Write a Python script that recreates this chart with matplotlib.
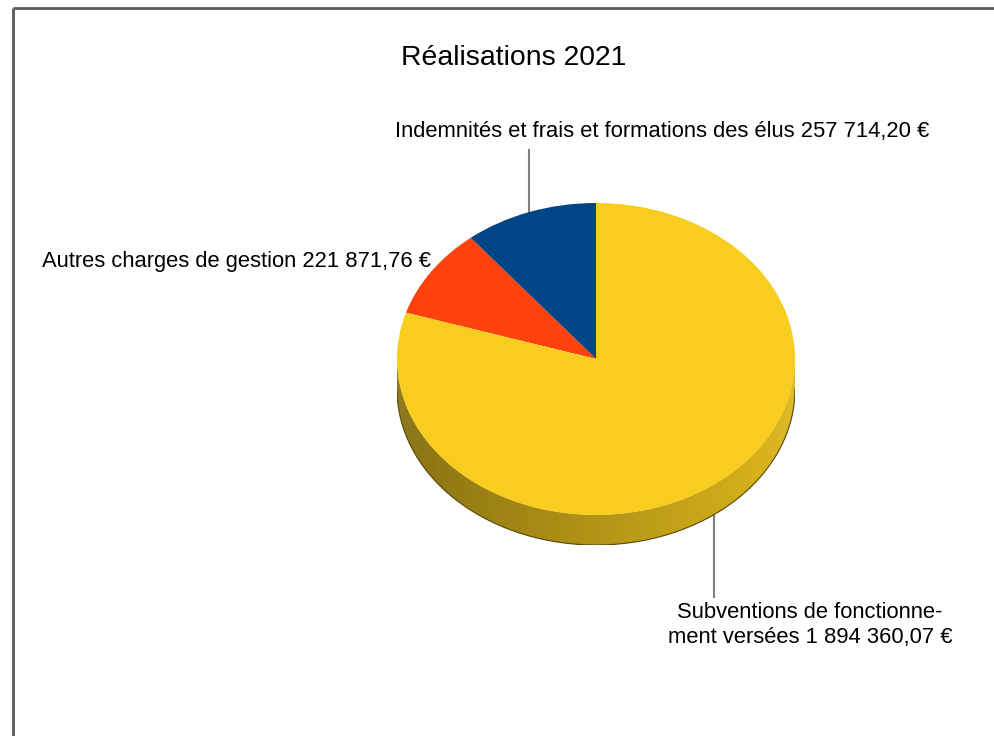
import numpy as np
import matplotlib
matplotlib.use("Agg")
import matplotlib.pyplot as plt
from matplotlib.collections import PolyCollection
from matplotlib.colors import to_rgb

title = "Réalisations 2021"
categories = ["Indemnités et frais et formations des élus",
              "Autres charges de gestion",
              "Subventions de fonctionne-\nment versées"]
values = [257714.20, 221871.76, 1894360.07]
value_labels = ["257 714,20 €", "221 871,76 €", "1 894 360,07 €"]
colors = ["#004586", "#ff420e", "#f8cd1f"]

plt.rcParams['font.family'] = ['Liberation Sans', 'DejaVu Sans']

W, H = 995, 736
fig = plt.figure(figsize=(W / 100, H / 100), dpi=100)

bg = fig.add_axes([0, 0, 1, 1])
bg.set_xlim(0, W)
bg.set_ylim(H, 0)
bg.axis('off')
bg.plot([13, 13], [8, H], color='#5a5a5a', lw=2, solid_capstyle='butt')
bg.plot([13, W], [8, 8], color='#5a5a5a', lw=2, solid_capstyle='butt')

# pie geometry (pixels)
cx, cy, a, b, t = 596, 359, 199, 156, 30
thick = t / b
pax = fig.add_axes([(cx - a) / W, (H - cy - b - t) / H, 2 * a / W, (2 * b + t) / H])

wedges, _ = pax.pie(values, colors=colors, startangle=90, counterclock=True,
                    radius=1, wedgeprops=dict(linewidth=0.6, edgecolor='none'))
for w in wedges:
    w.set_zorder(3)
    w.set_antialiased(True)

# wedge angle boundaries
fr = np.array(values) / np.sum(values)
bounds = 90 + 360 * np.concatenate([[0], np.cumsum(fr)])

# side (extrusion) for visible lower half
theta = np.linspace(180, 360, 721)
polys, cols = [], []
for t0, t1 in zip(theta[:-1], theta[1:]):
    tm = 0.5 * (t0 + t1)
    tt = tm if tm >= 90 else tm + 360
    idx = np.searchsorted(bounds, tt) - 1
    idx = min(max(idx, 0), len(values) - 1)
    base = np.array(to_rgb(colors[idx]))
    f = 0.72 + 0.17 * np.cos(np.radians(tm))
    c = np.clip(base * f, 0, 1)
    r0, r1 = np.radians(t0), np.radians(t1 + 0.3)
    polys.append([(np.cos(r0), np.sin(r0)), (np.cos(r1), np.sin(r1)),
                  (np.cos(r1), np.sin(r1) - thick), (np.cos(r0), np.sin(r0) - thick)])
    cols.append(c)
pc = PolyCollection(polys, facecolors=cols, edgecolors='none', zorder=1)
pax.add_collection(pc)
rr = np.radians(theta)
pax.plot(np.cos(rr), np.sin(rr) - thick, color='#5a4a08', lw=0.8, zorder=2)

pax.set_aspect('auto')
pax.set_xlim(-1, 1)
pax.set_ylim(-1 - thick, 1)
pax.axis('off')

# title
bg.text(513.5, 58, title, ha='center', va='center', fontsize=20.4, color='#000000')

# labels
fs = 15.85
mid = [np.radians(0.5 * (bounds[i] + bounds[i + 1])) for i in range(3)]

# blue label
mx = cx + a * np.cos(mid[0]); my = cy - b * np.sin(mid[0])
bg.plot([mx, mx], [150, my], color='#7f7f7f', lw=1.5, zorder=4)
bg.text(662.5, 132, categories[0] + " " + value_labels[0], ha='center', va='center',
        fontsize=fs, color='#000000')

# red label
bg.text(431, 262, categories[1] + " " + value_labels[1], ha='right', va='center',
        fontsize=fs, color='#000000')

# yellow label
mx = cx + a * np.cos(mid[2]); my = cy - b * np.sin(mid[2])
bg.plot([mx, mx], [my + 7, 597], color='#7f7f7f', lw=1.5, zorder=4)
bg.text(810, 625, categories[2] + " " + value_labels[2], ha='center', va='center',
        fontsize=fs, color='#000000', linespacing=1.2)

fig.savefig("out.png", dpi=100)
